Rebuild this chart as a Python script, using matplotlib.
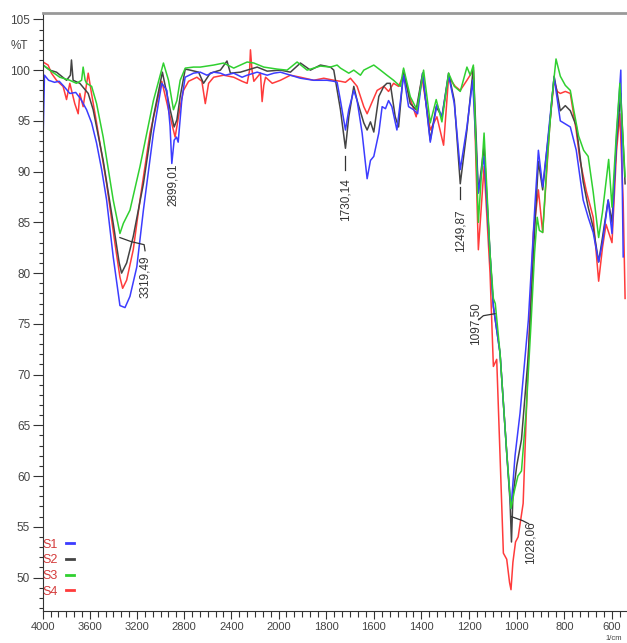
import numpy as np
import matplotlib
matplotlib.use("Agg")
import matplotlib.pyplot as plt
from matplotlib import font_manager
from matplotlib.ticker import FixedLocator, NullFormatter

# FTIR spectra, wavenumber (1/cm) vs transmittance (%T)
wn_s1 = [3997, 3985, 3950, 3900, 3860, 3820, 3770, 3720, 3680, 3628, 3585, 3543, 3500, 3458, 3402, 3345,
         3302, 3260, 3202, 3146, 3061, 2990, 2947, 2920, 2905, 2885, 2865, 2851, 2820, 2792, 2721, 2664,
         2607, 2550, 2493, 2451, 2380, 2309, 2266, 2181, 2096, 2039, 1992, 1950, 1908, 1852, 1796, 1768,
         1754, 1740, 1719, 1705, 1684, 1670, 1649, 1628, 1614, 1600, 1579, 1565, 1551, 1538, 1524, 1503,
         1475, 1454, 1433, 1416, 1395, 1363, 1335, 1314, 1286, 1262, 1237, 1209, 1185, 1161, 1137, 1112,
         1098, 1070, 1042, 1024, 1007, 986, 951, 923, 909, 891, 874, 860, 843, 817, 796, 775, 750, 721,
         700, 679, 656, 640, 616, 600, 581, 563, 553]
t_s1 = [93.1, 99.5, 99.0, 98.8, 98.9, 98.4, 97.7, 97.8, 97.2, 96.1, 94.8, 92.8, 90.2, 87.2, 81.6, 76.8,
        76.6, 77.7, 80.6, 86.2, 93.8, 98.7, 98.0, 94.5, 90.8, 93.1, 93.4, 92.9, 97.1, 99.3, 99.7, 99.8,
        99.5, 99.8, 99.7, 99.5, 99.7, 99.3, 99.5, 99.8, 99.5, 99.7, 99.8, 99.5, 99.2, 99.0, 99.0, 98.9,
        98.8, 97.0, 94.1, 96.1, 98.0, 97.0, 93.8, 89.3, 91.1, 91.5, 93.8, 96.4, 96.2, 97.0, 96.4, 94.1,
        99.5, 96.4, 96.1, 95.7, 99.7, 92.9, 96.6, 95.4, 99.5, 96.7, 90.2, 94.4, 99.0, 87.9, 91.5, 81.9,
        76.7, 72.1, 62.3, 56.8, 62.0, 66.2, 75.4, 86.9, 92.1, 88.5, 92.1, 95.4, 99.3, 95.0, 94.7, 94.4,
        92.1, 87.2, 85.5, 84.0, 81.1, 83.0, 87.2, 83.9, 93.4, 100.0, 81.6]

wn_s2 = [3997, 3940, 3883, 3798, 3765, 3756, 3742, 3685, 3614, 3572, 3487, 3402, 3351, 3331, 3288, 3232,
         3146, 3061, 2985, 2919, 2885, 2862, 2834, 2791, 2749, 2678, 2636, 2579, 2493, 2437, 2408, 2323,
         2266, 2181, 2096, 1992, 1950, 1908, 1866, 1824, 1782, 1768, 1740, 1719, 1705, 1684, 1670, 1642,
         1628, 1614, 1600, 1579, 1558, 1545, 1531, 1510, 1496, 1475, 1447, 1422, 1395, 1363, 1338, 1314,
         1286, 1262, 1237, 1209, 1182, 1161, 1137, 1112, 1098, 1070, 1042, 1028, 1022, 1016, 1000, 980,
         951, 923, 909, 891, 874, 860, 843, 817, 796, 775, 750, 721, 700, 679, 656, 640, 616, 600, 581,
         563, 545]
t_s2 = [100.5, 100.0, 99.8, 99.0, 99.5, 101.0, 99.0, 98.7, 97.7, 96.1, 91.1, 84.9, 81.0, 80.0, 81.0, 83.6,
        88.8, 95.4, 99.8, 96.1, 94.4, 95.1, 97.4, 100.1, 100.0, 99.8, 98.7, 99.7, 100.0, 100.9, 99.7, 99.8,
        100.0, 100.3, 99.9, 100.0, 99.8, 100.7, 100.0, 100.5, 100.3, 100.0, 96.1, 92.3, 95.4, 98.4, 97.0, 94.8,
        94.1, 94.9, 93.9, 97.4, 98.4, 98.7, 98.7, 95.4, 94.4, 100.0, 96.7, 96.1, 99.7, 93.1, 96.4, 95.4,
        99.7, 97.0, 88.8, 94.1, 100.3, 87.9, 92.5, 81.9, 76.7, 72.1, 62.3, 57.5, 53.5, 58.0, 61.0, 63.6,
        72.0, 85.0, 91.0, 88.2, 92.0, 95.0, 99.4, 96.0, 96.5, 96.0, 94.5, 89.0, 86.5, 84.5, 81.1, 83.5,
        87.2, 85.0, 93.0, 97.7, 88.8]

wn_s3 = [3997, 3940, 3855, 3770, 3714, 3670, 3657, 3640, 3628, 3585, 3543, 3487, 3402, 3345, 3316, 3260,
         3175, 3061, 2976, 2933, 2891, 2862, 2834, 2791, 2721, 2664, 2550, 2465, 2380, 2266, 2209, 2125,
         2011, 1964, 1922, 1880, 1824, 1782, 1754, 1740, 1705, 1684, 1656, 1642, 1600, 1572, 1545, 1517,
         1489, 1475, 1447, 1419, 1391, 1363, 1338, 1314, 1286, 1262, 1237, 1209, 1195, 1182, 1161, 1137,
         1112, 1098, 1090, 1070, 1042, 1024, 1010, 995, 980, 960, 940, 925, 914, 905, 891, 874, 853, 835,
         817, 796, 775, 760, 740, 719, 700, 679, 656, 640, 614, 600, 581, 567, 545]
t_s3 = [100.5, 100.0, 99.3, 99.0, 98.7, 99.0, 100.3, 99.0, 98.7, 98.4, 96.7, 93.4, 87.2, 83.9, 84.9, 86.2,
        90.5, 97.0, 100.7, 99.0, 96.1, 97.0, 99.0, 100.2, 100.3, 100.3, 100.5, 100.7, 100.2, 100.8, 100.7, 100.3,
        100.1, 100.0, 100.8, 100.0, 100.4, 100.3, 100.5, 100.2, 99.7, 100.0, 99.5, 100.0, 100.5, 100.0, 99.5, 99.0,
        98.4, 100.2, 97.4, 96.1, 100.0, 94.8, 97.1, 94.9, 99.7, 98.4, 97.9, 100.3, 99.5, 100.5, 85.0, 93.8,
        81.9, 77.5, 77.0, 72.1, 62.3, 56.8, 58.5, 60.0, 60.5, 66.5, 75.0, 82.0, 85.5, 84.2, 84.0, 90.5, 97.0, 101.1,
        99.4, 98.5, 98.0, 96.0, 93.5, 92.1, 91.5, 88.0, 83.5, 86.0, 91.2, 86.5, 94.0, 98.7, 89.5]

wn_s4 = [3997, 3954, 3926, 3883, 3827, 3798, 3770, 3728, 3699, 3685, 3657, 3614, 3586, 3543, 3458, 3387,
         3345, 3322, 3288, 3232, 3175, 3090, 2990, 2919, 2877, 2834, 2806, 2763, 2692, 2650, 2621, 2593,
         2550, 2465, 2380, 2309, 2266, 2245, 2238, 2225, 2209, 2153, 2139, 2125, 2110, 2053, 1992, 1950,
         1908, 1852, 1810, 1768, 1740, 1719, 1698, 1670, 1642, 1628, 1610, 1586, 1558, 1538, 1517, 1496,
         1475, 1447, 1422, 1398, 1363, 1335, 1307, 1286, 1258, 1237, 1209, 1182, 1161, 1137, 1112, 1098,
         1084, 1070, 1056, 1042, 1030, 1024, 1016, 1005, 994, 973, 951, 930, 909, 891, 874, 860, 843, 830,
         817, 796, 775, 750, 735, 707, 679, 656, 640, 625, 600, 581, 567, 553, 545]
t_s4 = [100.8, 100.5, 99.7, 99.0, 98.4, 97.1, 98.7, 96.7, 95.7, 97.7, 96.4, 99.7, 97.7, 94.8, 88.8, 82.9,
        79.6, 78.5, 79.3, 82.3, 87.2, 93.8, 98.9, 95.4, 93.4, 96.4, 98.0, 98.9, 99.3, 98.9, 96.7, 98.7,
        99.3, 99.5, 99.3, 98.9, 98.7, 100.0, 102.0, 100.0, 98.9, 99.7, 96.9, 98.5, 99.3, 98.7, 99.0, 99.5,
        99.3, 99.0, 99.2, 99.0, 98.9, 98.8, 99.2, 98.4, 96.4, 95.7, 96.7, 98.0, 98.4, 97.9, 98.7, 98.4,
        99.5, 97.2, 95.4, 99.3, 94.1, 95.4, 92.6, 99.3, 98.4, 98.0, 99.0, 100.0, 82.3, 90.5, 80.0, 70.8,
        71.5, 62.0, 52.4, 51.8, 49.5, 48.8, 51.5, 53.5, 54.0, 57.3, 72.0, 84.0, 88.2, 84.0, 90.0, 95.0, 99.0, 97.9,
        97.7, 97.9, 97.7, 94.0, 91.2, 88.0, 85.5, 79.2, 82.5, 84.8, 83.0, 92.0, 95.7, 87.0, 77.5]

# peak labels: text, x of text, top of text, leader line (wn list, %T list)
peak_labels = [
    ("3319,49", 3132, 81.7, [3345, 3250, 3140, 3132], [83.5, 83.1, 82.8, 82.2]),
    ("2899,01", 2894, 90.8, [], []),
    ("1730,14", 1719, 89.4, [1719, 1719], [91.5, 90.2]),
    ("1249,87", 1237, 86.3, [1237, 1237], [88.5, 87.3]),
    ("1097,50", 1172, 77.1, [1091, 1140, 1160], [76.0, 75.8, 75.4]),
    ("1028,06", 944, 55.5, [1022, 975, 950], [56.0, 55.6, 55.3]),
]

K = 0.495  # the region above 2000 1/cm is drawn at half scale


def fwd(w):
    w = np.asarray(w, dtype=float)
    return np.where(w > 2000, 2000 + (w - 2000) * K, w)


def inv(u):
    u = np.asarray(u, dtype=float)
    return np.where(u > 2000, 2000 + (u - 2000) / K, u)


names = {f.name for f in font_manager.fontManager.ttflist}
fam = "Liberation Sans Narrow" if "Liberation Sans Narrow" in names else "Liberation Sans"
plt.rcParams["font.family"] = [fam, "DejaVu Sans"]

fig = plt.figure(figsize=(6.27, 6.43), dpi=100)
ax = fig.add_axes([42.7 / 627, 1 - 611 / 643, 584.3 / 627, (611 - 13.3) / 643])
ax.set_xscale("function", functions=(fwd, inv))

l4, = ax.plot(wn_s4, t_s4, color="#ff3b3b", lw=1.1, label="S4")
l2, = ax.plot(wn_s2, t_s2, color="#444444", lw=1.1, label="S2")
l1, = ax.plot(wn_s1, t_s1, color="#3c3cff", lw=1.1, label="S1")
l3, = ax.plot(wn_s3, t_s3, color="#30d030", lw=1.1, label="S3")

for txt, xt, yt, lx, ly in peak_labels:
    if lx:
        ax.plot(lx, ly, color="#333333", lw=0.9)
    ax.text(xt, yt, txt, rotation=90, ha="center", va="top", fontsize=8.5, color="#333333")

ax.set_xlim(4000, 537)
ax.set_ylim(46.7, 105.6)

xmaj = [4000, 3600, 3200, 2800, 2400, 2000, 1800, 1600, 1400, 1200, 1000, 800, 600]
ax.xaxis.set_major_locator(FixedLocator(xmaj))
ax.xaxis.set_minor_locator(FixedLocator(list(np.arange(566.67, 2000, 200 / 6)) +
                                        list(np.arange(2000, 4000, 400 / 6))))
ax.xaxis.set_minor_formatter(NullFormatter())
ax.set_xticklabels([str(v) for v in xmaj])
ax.yaxis.set_major_locator(FixedLocator(np.arange(50, 106, 5)))
ax.yaxis.set_minor_locator(FixedLocator(np.arange(47, 106, 1)))

ax.tick_params(which="both", direction="out", color="#333333", width=0.8,
               labelsize=8.5, labelcolor="#444444")
ax.tick_params(axis="x", which="major", length=6, pad=2, labelsize=8)
ax.tick_params(axis="x", which="minor", length=4)
ax.tick_params(axis="y", which="major", length=7, pad=2)
ax.tick_params(axis="y", which="minor", length=3)

ax.spines["right"].set_visible(False)
ax.spines["top"].set_color("#999999")
ax.spines["top"].set_linewidth(2)
ax.spines["left"].set_color("#333333")
ax.spines["bottom"].set_color("#333333")

ax.text(-0.04, 102.4, "%T", transform=ax.get_yaxis_transform(), ha="center", va="center",
        fontsize=8.5, color="#444444")
fig.text(614 / 627, 0.002, "1/cm", ha="center", va="bottom", fontsize=5.5, color="#444444")

leg = ax.legend(handles=[l1, l2, l3, l4], loc="lower left", bbox_to_anchor=(0.0, 0.022),
                markerfirst=False, frameon=False, labelcolor="#d43a3a", fontsize=9,
                handlelength=0.7, handletextpad=0.6, labelspacing=0.3, borderpad=0, borderaxespad=0)
for h in leg.get_lines():
    h.set_linewidth(2)

fig.savefig("out.png", dpi=100)
